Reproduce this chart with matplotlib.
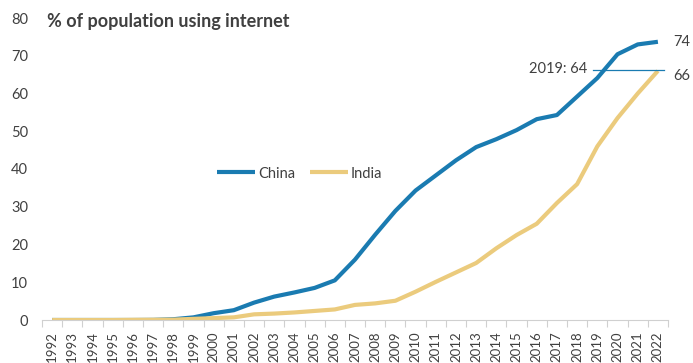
import matplotlib
matplotlib.use("Agg")
import matplotlib.pyplot as plt
import numpy as np

years = list(range(1992, 2023))
china = [0.0, 0.0, 0.0, 0.0, 0.0, 0.03, 0.2, 0.7, 1.8, 2.6, 4.6, 6.2, 7.3, 8.5, 10.5,
         16.0, 22.6, 28.9, 34.3, 38.3, 42.3, 45.8, 47.9, 50.3, 53.2, 54.3, 59.2, 64.1,
         70.4, 73.0, 73.7]
india = [0.0, 0.0, 0.0, 0.0, 0.05, 0.07, 0.1, 0.3, 0.5, 0.7, 1.5, 1.7, 2.0, 2.4, 2.8,
         4.0, 4.4, 5.1, 7.5, 10.1, 12.6, 15.1, 19.0, 22.5, 25.5, 31.0, 36.0, 46.0,
         53.5, 60.0, 66.0]
yticks = [0, 10, 20, 30, 40, 50, 60, 70, 80]
ref_label = "2019: 64"
ref_level = 66.3
end_labels = ["74", "66"]

plt.rcParams['font.family'] = ['Lato', 'DejaVu Sans']
txt = '#404040'

fig = plt.figure(figsize=(6.93, 3.63), dpi=100)
ax = fig.add_axes([42/693, 43/363, (668-42)/693, (320-18)/363])

x = np.arange(len(years))
c_china = '#1A7BB1'
c_india = '#EBCB7D'
ax.plot(x, china, color=c_china, lw=3.0, label='China', solid_capstyle='butt')
ax.plot(x, india, color=c_india, lw=3.0, label='India', solid_capstyle='butt')

ax.set_xlim(-0.5, len(years) - 0.5)
ax.set_ylim(0, 80)
ax.set_yticks(yticks)
ax.set_yticklabels([str(v) for v in yticks], color=txt, fontsize=10.5)
ax.tick_params(axis='y', length=0, pad=10)

ax.set_xticks(x)
ax.set_xticklabels([str(y) for y in years], rotation=90, color=txt, fontsize=9.5)
ax.set_xticks(np.arange(-0.5, len(years)), minor=True)
ax.tick_params(axis='x', which='major', length=0, pad=8)
ax.tick_params(axis='x', which='minor', length=5, color='#d0d0d0', width=0.8)

for s in ['top', 'right', 'left']:
    ax.spines[s].set_visible(False)
ax.spines['bottom'].set_color('#d0d0d0')
ax.spines['bottom'].set_linewidth(0.8)

# reference line
ax.plot([26.8, 30.3], [ref_level, ref_level], color=c_china, lw=0.9)
ax.text(26.5, ref_level + 0.1, ref_label, ha='right', va='center', color=txt, fontsize=10.5)

ax.text(30.75, china[-1], end_labels[0], ha='left', va='center', color=txt, fontsize=10.5, clip_on=False)
ax.text(30.75, india[-1] - 1.4, end_labels[1], ha='left', va='center', color=txt, fontsize=10.5, clip_on=False)

fig.text(47/693, 1 - 22/363, '% of population using internet', ha='left', va='center',
         color=txt, fontsize=13, fontweight='bold')

leg = ax.legend(loc='center', bbox_to_anchor=(0.412, 0.485), ncol=2, frameon=False,
                fontsize=10.5, handlelength=2.6, handletextpad=0.2, columnspacing=1.0)
for t in leg.get_texts():
    t.set_color(txt)

fig.savefig('out.png', dpi=100, facecolor='white')
